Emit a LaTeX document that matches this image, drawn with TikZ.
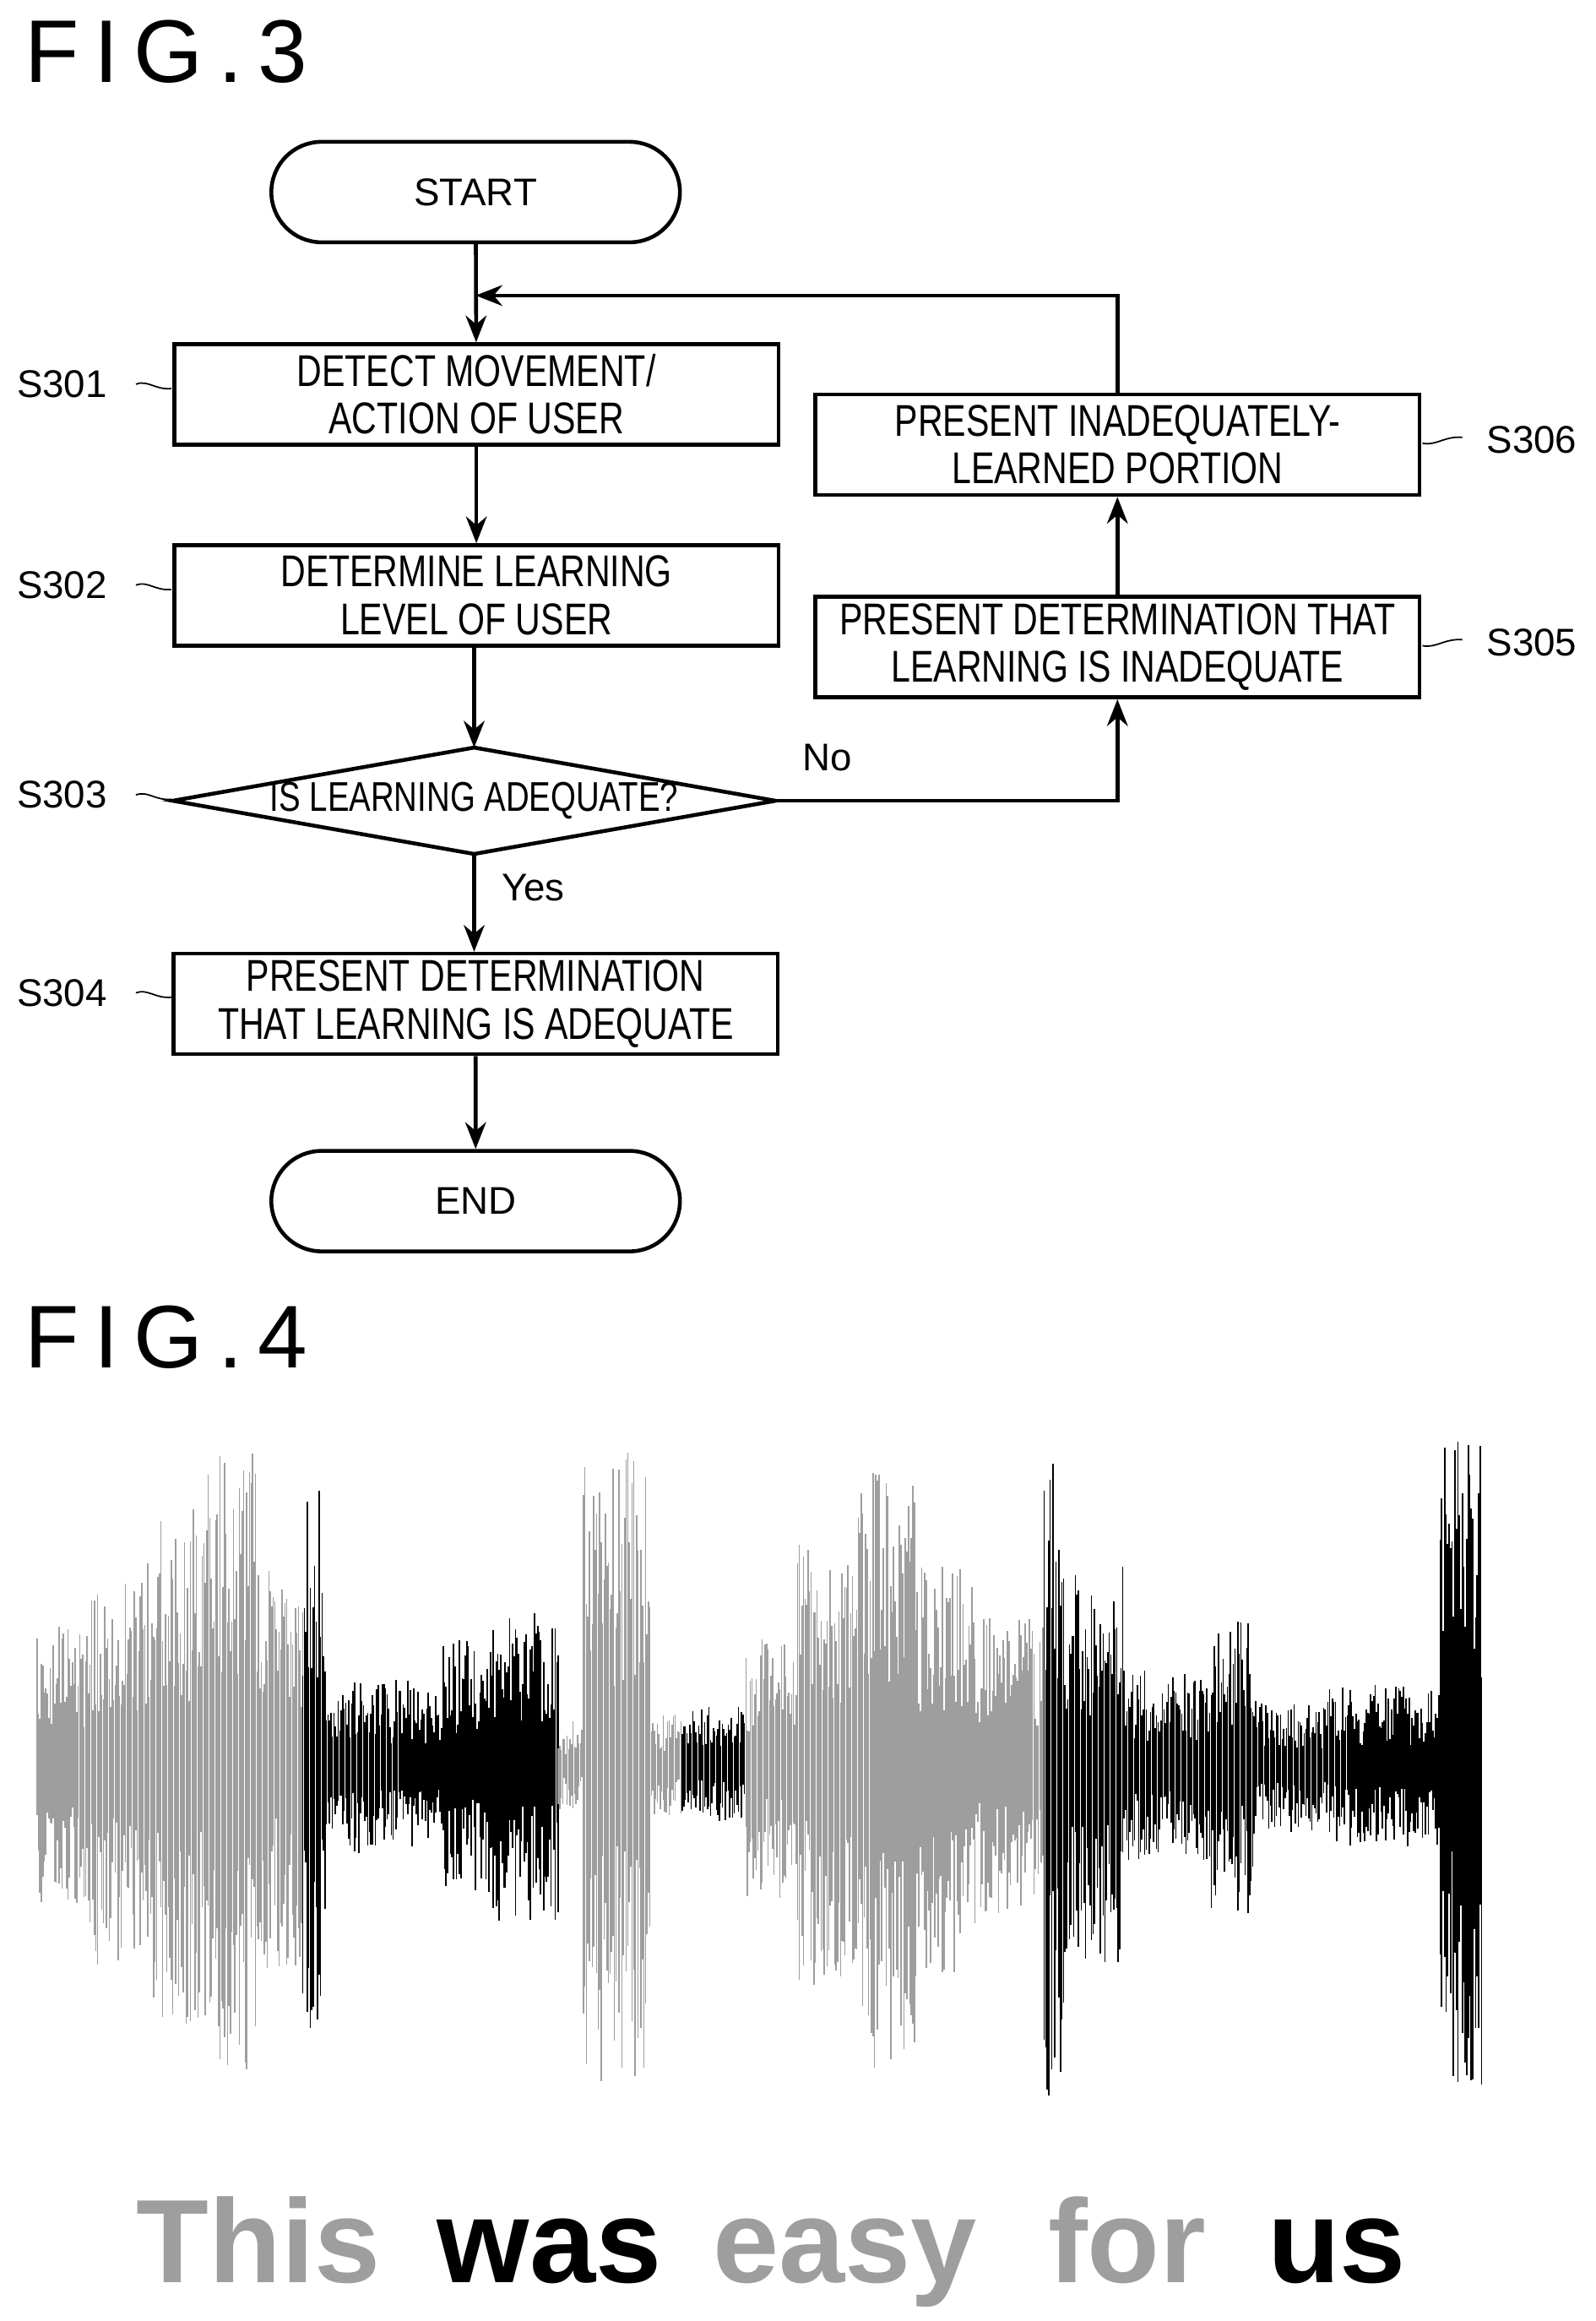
\documentclass[tikz,border=0pt]{standalone}
\usepackage{fontspec}
\setmainfont{Liberation Sans}
\newfontfamily\cond[FakeStretch=0.78]{Liberation Sans}
\usetikzlibrary{shapes.geometric,shapes.misc,arrows.meta}
\begin{document}
\begin{tikzpicture}[x=0.0175cm,y=-0.0175cm,
 box/.style={draw,line width=1.3pt,minimum width=409*0.0175cm,minimum height=68*0.0175cm,align=center,font=\cond\fontsize{15}{16}\selectfont,inner sep=0pt},
 term/.style={draw,line width=1.3pt,rounded rectangle,minimum width=290*0.0175cm,minimum height=68*0.0175cm,font=\fontsize{13}{14}\selectfont},
 arr/.style={line width=1.3pt,-{Stealth[length=9pt,width=7pt]}},
 lab/.style={font=\fontsize{13}{14}\selectfont},
 fig/.style={font=\fontsize{30}{30}\selectfont,anchor=west}]
\useasboundingbox (0,0) rectangle (1080,1571);
\node[fig] (f3) at (10,35) {F\,I\,G\,.\,3};
\node[fig] (f4) at (10,905) {F\,I\,G\,.\,4};
\node[term] (st) at (322,130) {START};
\node[box] (s1) at (322.5,267) {DETECT MOVEMENT/\\ACTION OF USER};
\node[box] (s2) at (322.5,403) {DETERMINE LEARNING\\LEVEL OF USER};
\coordinate (dn) at (321,506);
\coordinate (ds) at (321,578);
\coordinate (dw) at (117,542);
\coordinate (de) at (525,542);
\draw[line width=1.3pt] (dn) -- (de) -- (ds) -- (dw) -- cycle;
\node[font=\cond\fontsize{14}{15}\selectfont] (s3) at (321,542) {IS LEARNING ADEQUATE?};
\node[box] (s4) at (322,679.5) {PRESENT DETERMINATION\\THAT LEARNING IS ADEQUATE};
\node[term] (en) at (322,813) {END};
\node[box] (s6) at (756.5,301) {PRESENT INADEQUATELY-\\LEARNED PORTION};
\node[box] (s5) at (756.5,438) {PRESENT DETERMINATION THAT\\LEARNING IS INADEQUATE};
\draw[arr] (st) -- (s1);
\draw[arr] (s1) -- (s2);
\draw[arr] (s2.south -| dn) -- (dn);
\draw[arr] (ds) -- (s4.north -| ds);
\draw[arr] (s4) -- (en);
\draw[arr] (de) -| (s5.south);
\draw[arr] (s5) -- (s6);
\coordinate (lp) at (322,200);
\draw[arr] (s6.north) |- (lp);
\node[lab] (no) at (560,513) {No};
\node[lab] (yes) at (361,601) {Yes};
\foreach \t/\y in {S301/260,S302/396,S303/538,S304/672}{
 \node[lab] (l\t) at (42,\y) {\t};
 \draw[line width=0.5pt] (92,\y) .. controls (100,\y-3) and (105,\y+4) .. (116,\y+3);}
\foreach \t/\y in {S306/298,S305/435}{
 \node[lab] (l\t) at (1037,\y) {\t};
 \draw[line width=0.5pt] (963,\y+2) .. controls (972,\y+4) and (978,\y-3) .. (990,\y-2);}
% waveform
\definecolor{wg}{gray}{0.62}
\pgfmathsetseed{7}
\foreach \a/\b/\m/\c in {25/60/95/wg,60/100/135/wg,100/140/175/wg,140/175/215/wg,175/205/140/wg,205/220/190/black,220/300/60/black,300/330/85/black,330/378/105/black,378/395/30/wg,395/440/215/wg,440/462/35/wg,462/505/40/black,505/540/90/wg,540/580/150/wg,580/620/210/wg,620/660/140/wg,660/707/100/wg,707/720/225/black,720/760/135/black,760/820/65/black,820/850/100/black,850/900/45/black,900/975/55/black,975/1003/225/black}{
 \foreach \x in {\a,...,\b}{
  \pgfmathsetmacro\u{\m*(0.25+0.75*rnd)}
  \pgfmathsetmacro\d{\m*(0.25+0.75*rnd)}
  \draw[\c,line width=0.45pt] (\x,1195-\u) -- (\x,1195+\d);
 }}
\foreach \w/\x/\c in {This/175/wg,was/372/black,easy/572/wg,for/763/wg,us/905/black}
 \node[font=\bfseries\fontsize{40}{40}\selectfont,text=\c,anchor=base] (w\w) at (\x,1545) {\w};
\end{tikzpicture}
\end{document}
